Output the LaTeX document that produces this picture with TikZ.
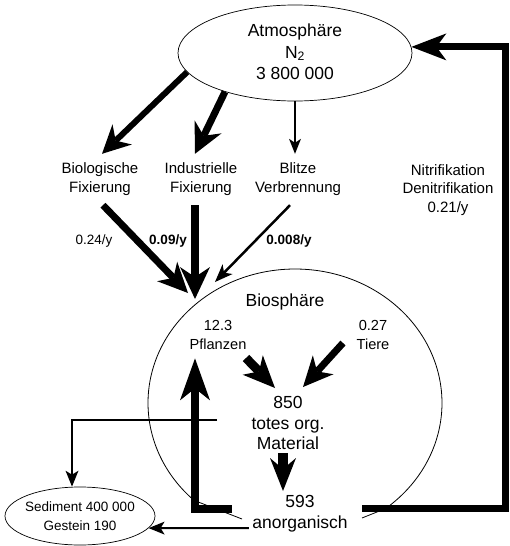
\documentclass[tikz,border=0pt]{standalone}
\usepackage{fontspec}
\setmainfont{Liberation Sans}
\usetikzlibrary{arrows.meta,shapes.geometric}
\newcommand\myfs[2]{\fontsize{#1}{#2}\selectfont}
\begin{document}
\begin{tikzpicture}[x=1pt,y=-1pt,
  farrow/.style n args={4}{line width=#1, -{Stealth[length=#2,width=#3,inset=#4,line width=0pt]}},
  ell/.style={draw, ellipse, inner sep=0pt, line width=0.7pt},
  lbl/.style={font=\myfs{15}{19}, align=center, inner sep=9pt},
  rate/.style={font=\myfs{13.5}{16}},
  brate/.style={font=\myfs{13.5}{16}\bfseries},
  big/.style={font=\myfs{17.5}{21}, align=center},
  mid/.style={font=\myfs{14.6}{19}, align=center, inner sep=4pt}]
\useasboundingbox (0,0) rectangle (509,546);

% shapes
\node[ell, minimum width=234pt, minimum height=96pt] (atm) at (295,53) {};
\node[font=\myfs{17.5}{21.5}, align=center] (atmtxt) at (295,52) {Atmosphäre\\N\textsubscript{2}\\3 800 000};
\node[ell, minimum width=150pt, minimum height=58pt] (sed) at (80,516) {};
\node[font=\myfs{13.5}{19.5}, align=center] (sedtxt) at (80,516) {Sediment 400 000\\Gestein 190};
\node[ellipse, minimum width=294pt, minimum height=268pt, inner sep=0pt] (bios) at (295,403) {};

% labels
\node[lbl] (bio) at (100,179.5) {Biologische\\Fixierung};
\node[lbl] (ind) at (201,179.5) {Industrielle\\Fixierung};
\node[lbl] (blitz) at (298,179.5) {Blitze\\Verbrennung};
\node[font=\myfs{15}{18.5}, align=center] (nitri) at (448,190) {Nitrifikation\\Denitrifikation\\0.21/y};
\node[rate] (r1) at (94,241) {0.24/y};
\node[brate] (r2) at (168,241) {0.09/y};
\node[brate] (r3) at (289,241) {0.008/y};
\node[big] (biostxt) at (285,302) {Biosphäre};
\node[mid] (pfl) at (218,335) {12.3\\Pflanzen};
\node[mid] (tiere) at (373,335) {0.27\\Tiere};
\node[font=\myfs{17.5}{20.5}, align=center] (tot) at (288,423) {850\\totes org.\\Material};
\node[big] (anorg) at (300,514) {593\\anorganisch};

% biosphere outline
\draw[line width=0.8pt] (242,519) -- ([shift={(133.4:147 and 134)}]bios.center)
  arc[start angle=133.4, end angle=412, x radius=147, y radius=134] -- (362,518);

% arrows from atmosphere
\draw[farrow={6pt}{28pt}{28pt}{9pt}] (atm.190) -- ([xshift=2pt]bio.north);
\draw[farrow={7pt}{30pt}{30pt}{10pt}] (atm.209) -- ([xshift=-6pt]ind.north);
\draw[farrow={2pt}{15pt}{12pt}{4pt}] (atm.south) -- (atm.south |- blitz.north);

% arrows into biosphere
\draw[farrow={7pt}{30pt}{28pt}{9pt}] ([xshift=3pt]bio.south) -- ([shift={(-107pt,110pt)}]bios.center);
\draw[farrow={7.5pt}{32pt}{30pt}{10pt}] ([xshift=-6pt]ind.south) -- ([shift={(-100pt,104pt)}]bios.center);
\draw[farrow={2.5pt}{18pt}{14pt}{5pt}] ([xshift=-8pt]blitz.south) -- ([shift={(-80pt,121pt)}]bios.center);

% return loop
\coordinate (loopstart) at (362,508);
\draw[farrow={7pt}{35pt}{27pt}{10pt}] (loopstart) -| ([xshift=94pt]atm.3) -- (atm.3);

% L arrow up to plants
\coordinate (Lstart) at (232,509);
\draw[farrow={8pt}{42pt}{30pt}{12pt}] (Lstart) -| ([xshift=-23pt,yshift=-4.5pt]pfl.south);

% to sediment
\coordinate (hstart) at (217,420);
\draw[farrow={2pt}{16pt}{13pt}{4pt}] (hstart) -| ([xshift=-8pt]sed.north);
\draw[farrow={2pt}{16pt}{13pt}{4pt}] ([yshift=-14pt]anorg.west) -- (sed.-10);

% internal arrows
\draw[farrow={9pt}{32pt}{28pt}{9pt}] ([shift={(28pt,-23pt)}]pfl.center) -- ([shift={(-13pt,35pt)}]tot.center);
\draw[farrow={7pt}{30pt}{28pt}{9pt}] ([shift={(-30pt,-8pt)}]tiere.center) -- ([shift={(15pt,36pt)}]tot.center);
\draw[farrow={10pt}{33pt}{26pt}{11pt}] ([shift={(-5pt,-30pt)}]tot.center) -- ([shift={(-17pt,23pt)}]anorg.center);
\end{tikzpicture}
\end{document}
